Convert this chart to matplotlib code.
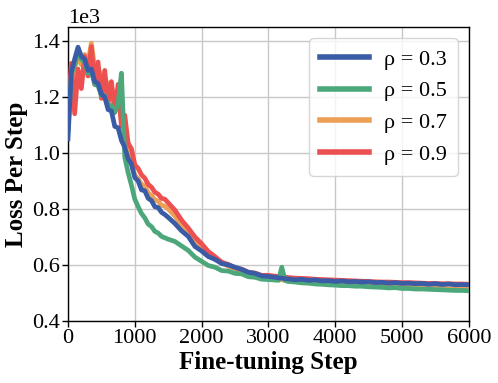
import numpy as np
import matplotlib.pyplot as plt

plt.rcParams['font.family'] = ['Liberation Serif', 'DejaVu Serif']

# fine-tuning steps (shared by all curves)
steps = list(range(0, 1501, 50)) + list(range(1600, 3101, 100)) + [3150, 3200, 3250] + list(range(3300, 6001, 100))

# loss per step
loss_03 = [1050, 1290, 1335, 1378, 1345, 1335, 1295, 1300, 1255, 1248, 1210, 1200, 1155, 1150, 1095, 1090, 1045, 1020, 980, 960, 912, 900, 868, 865, 838, 830, 808, 805, 788, 780, 770,
           748, 722, 702, 666, 650, 630, 620, 605, 600, 592, 584, 574, 570, 561, 559, 556,
           554, 553, 551,
           550, 547, 549, 545, 547, 543, 544, 541, 543, 540, 541, 539, 540, 537, 538, 535, 537, 534, 535, 533, 534, 531, 533, 530, 532, 529, 530, 529]
loss_05 = [1080, 1280, 1315, 1360, 1335, 1325, 1285, 1290, 1245, 1240, 1205, 1205, 1165, 1170, 1145, 1175, 1285, 985, 930, 885, 835, 808, 784, 768, 746, 737, 720, 714, 702, 697, 692,
           684, 668, 652, 628, 613, 598, 592, 580, 578, 570, 568, 558, 556, 549, 548, 546,
           545, 592, 544,
           541, 539, 536, 535, 532, 531, 529, 528, 526, 526, 524, 524, 522, 521, 520, 518, 519, 516, 516, 514, 514, 513, 512, 511, 510, 509, 509, 508]
loss_07 = [1100, 1250, 1305, 1340, 1315, 1352, 1325, 1392, 1305, 1300, 1275, 1265, 1245, 1235, 1195, 1195, 1115, 1075, 1035, 965, 920, 908, 888, 882, 858, 848, 833, 828, 813, 810, 800,
           775, 742, 708, 686, 658, 642, 620, 610, 595, 588, 576, 571, 562, 558, 551, 549,
           548, 547, 546,
           545, 542, 541, 539, 538, 536, 535, 533, 532, 531, 530, 529, 528, 526, 526, 524, 524, 522, 521, 520, 519, 518, 517, 516, 515, 514, 514, 513]
loss_09 = [1150, 1320, 1140, 1300, 1230, 1345, 1275, 1380, 1245, 1325, 1195, 1295, 1175, 1255, 1145, 1245, 1095, 1135, 1035, 1015, 958, 945, 922, 910, 888, 878, 860, 853, 838, 835, 822,
           796, 760, 732, 700, 676, 648, 630, 610, 602, 590, 585, 574, 571, 563, 563, 560,
           559, 558, 557,
           555, 553, 552, 551, 549, 548, 547, 546, 545, 544, 543, 542, 541, 540, 539, 539, 538, 537, 537, 536, 535, 534, 534, 533, 533, 532, 532, 531]

labels = ['ρ = 0.3', 'ρ = 0.5', 'ρ = 0.7', 'ρ = 0.9']
colors = ['#3a5ba6', '#4ca77b', '#eba056', '#ec5050']
series = [loss_03, loss_05, loss_07, loss_09]
layer = [10, 9, 7, 8]

fig = plt.figure(figsize=(4.98, 3.83), dpi=100)
ax = fig.add_axes([0.1365, 0.162, 0.805, 0.7675])

for ys, c, lab, z in zip(series, colors, labels, layer):
    ax.plot(steps, ys, color=c, lw=3.4, label=lab, zorder=z)

ax.set_xlim(0, 6000)
ax.set_ylim(400, 1450)
ax.set_xticks([0, 1000, 2000, 3000, 4000, 5000, 6000])
ax.set_yticks([400, 600, 800, 1000, 1200, 1400])
ax.ticklabel_format(style='sci', axis='y', scilimits=(3, 3))
ax.yaxis.get_offset_text().set_fontsize(16)
ax.tick_params(labelsize=16, direction='out', length=4, width=1, pad=2)
ax.grid(True, color='#c8c8c8', lw=1)
ax.set_axisbelow(True)
for s in ax.spines.values():
    s.set_color('black')
    s.set_linewidth(1)

ax.set_xlabel('Fine-tuning Step', fontsize=18, fontweight='bold', labelpad=2)
ax.set_ylabel('Loss Per Step', fontsize=18, fontweight='bold', labelpad=3)

leg = ax.legend(loc='upper right', fontsize=16, handlelength=2.2, labelspacing=0.5,
                borderpad=0.5, handletextpad=0.65, framealpha=0.8, fancybox=True)
for line in leg.get_lines():
    line.set_linewidth(4)

fig.savefig('out.png', dpi=100)
